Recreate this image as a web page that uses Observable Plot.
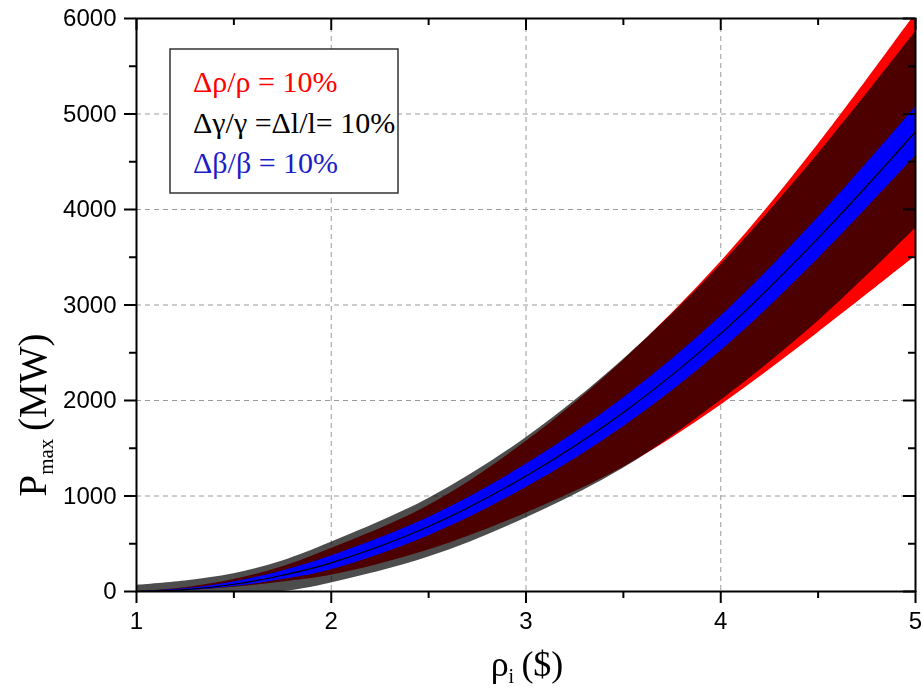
<!DOCTYPE html>
<html>
<head>
<meta charset="utf-8">
<script src="https://cdn.jsdelivr.net/npm/d3@7"></script>
<script src="https://cdn.jsdelivr.net/npm/@observablehq/plot@0.6"></script>
<style>
  html, body { margin: 0; padding: 0; background: #fff; }
  #chart { position: relative; width: 923px; height: 693px; }
</style>
</head>
<body>
<div id="chart"></div>
<script>
// ---- data ----
const xs     = [1, 1.25, 1.5, 1.75, 2, 2.5, 3, 3.5, 4, 4.5, 5];
const center = [0, 19, 76, 170, 300, 680, 1210, 1875, 2700, 3700, 4815];
const blueLo = [0, 9, 52, 125, 228, 585, 1088, 1725, 2518, 3485, 4560];
const blueHi = [0, 29, 100, 215, 372, 775, 1332, 2025, 2882, 3915, 5070];
const grayLo = [0, 0, 0, 0, 90, 360, 770, 1290, 2000, 2830, 3800];
const grayHi = [65, 110, 185, 320, 515, 975, 1610, 2430, 3420, 4580, 5860];
const redLo  = [0, 10, 45, 100, 170, 435, 820, 1300, 1950, 2710, 3510];
const redHi  = [0, 40, 125, 260, 450, 900, 1570, 2420, 3450, 4680, 6050];

const xTicks = [1, 2, 3, 4, 5];
const xMinor = [1.5, 2.5, 3.5, 4.5];
const yTicks = [0, 1000, 2000, 3000, 4000, 5000, 6000];
const yMinor = [500, 1500, 2500, 3500, 4500, 5500];
const xGrid  = [2, 3, 4];
const yGrid  = [1000, 2000, 3000, 4000, 5000];

const legendLines = [
  {text: "\u0394\u03c1/\u03c1 = 10%", color: "#ff0000"},
  {text: "\u0394\u03b3/\u03b3 =\u0394l/l= 10%", color: "#000000"},
  {text: "\u0394\u03b2/\u03b2 = 10%", color: "#1c1cc8"}
];

const rows = xs.map((x, i) => ({
  x, center: center[i],
  blueLo: blueLo[i], blueHi: blueHi[i],
  grayLo: grayLo[i], grayHi: grayHi[i],
  redLo: redLo[i], redHi: redHi[i]
}));

const sans = "'Liberation Sans', Arial, sans-serif";
const serif = "'Liberation Serif', 'Times New Roman', serif";
const tickStyle = {stroke: "black", strokeWidth: 2};
const crv = "catmull-rom";

const plot = Plot.plot({
  width: 923,
  height: 693,
  marginLeft: 136,
  marginRight: 8,
  marginTop: 18,
  marginBottom: 102,
  style: {fontFamily: sans, background: "white", overflow: "visible"},
  x: {domain: [1, 5], axis: null},
  y: {domain: [0, 6000], axis: null},
  marks: [
    Plot.ruleX(xGrid, {x: d => d, stroke: "#9a9a9a", strokeWidth: 1, strokeDasharray: "5,4"}),
    Plot.ruleY(yGrid, {y: d => d, stroke: "#9a9a9a", strokeWidth: 1, strokeDasharray: "5,4"}),
    Plot.areaY(rows, {x: "x", y1: "redLo", y2: "redHi", fill: "#ff0000", curve: crv, clip: true}),
    Plot.areaY(rows, {x: "x", y1: "grayLo", y2: "grayHi", fill: "#4d4d4d", curve: crv, clip: true, mixBlendMode: "multiply"}),
    Plot.areaY(rows, {x: "x", y1: "blueLo", y2: "blueHi", fill: "#0000ff", curve: crv, clip: true}),
    Plot.line(rows, {x: "x", y: "center", stroke: "black", strokeWidth: 1.2, curve: crv, clip: true}),
    Plot.frame({stroke: "black", strokeWidth: 2}),
    // bottom ticks (outward)
    Plot.ruleX(xTicks, {x: d => d, y1: () => 0, y2: () => 0, insetBottom: -12, ...tickStyle}),
    Plot.ruleX(xMinor, {x: d => d, y1: () => 0, y2: () => 0, insetBottom: -7, ...tickStyle}),
    // top ticks (inward)
    Plot.ruleX(xTicks, {x: d => d, y1: () => 6000, y2: () => 6000, insetBottom: -12, ...tickStyle}),
    Plot.ruleX(xMinor, {x: d => d, y1: () => 6000, y2: () => 6000, insetBottom: -7, ...tickStyle}),
    // left ticks (outward)
    Plot.ruleY(yTicks, {y: d => d, x1: () => 1, x2: () => 1, insetLeft: -12, ...tickStyle}),
    Plot.ruleY(yMinor, {y: d => d, x1: () => 1, x2: () => 1, insetLeft: -7, ...tickStyle}),
    // right ticks (inward)
    Plot.ruleY(yTicks, {y: d => d, x1: () => 5, x2: () => 5, insetLeft: -12, ...tickStyle}),
    Plot.ruleY(yMinor, {y: d => d, x1: () => 5, x2: () => 5, insetLeft: -7, ...tickStyle}),
    // tick labels
    Plot.text(xTicks, {x: d => d, y: () => 0, text: d => String(d), dy: 30, lineAnchor: "middle", fontSize: 24, fill: "black"}),
    Plot.text(yTicks, {x: () => 1, y: d => d, text: d => String(d), dx: -20, textAnchor: "end", lineAnchor: "middle", fontSize: 24, fill: "black"})
  ]
});

document.getElementById("chart").appendChild(plot);

const svg = d3.select(plot);
// ensure multiply blending on the gray band
svg.selectAll('g[aria-label="area"]').filter((d, i) => i === 1).style("mix-blend-mode", "multiply");

// axis titles
const yt = svg.append("text")
  .attr("transform", "translate(46,415) rotate(-90)")
  .attr("text-anchor", "middle")
  .style("font-family", serif)
  .style("font-size", "39px")
  .attr("fill", "black");
yt.append("tspan").text("P");
yt.append("tspan").attr("dy", 7).style("font-size", "21px").text("max");
yt.append("tspan").attr("dy", -7).text("\u2009(MW)");

const xt = svg.append("text")
  .attr("transform", "translate(527,676)")
  .attr("text-anchor", "middle")
  .style("font-family", serif)
  .style("font-size", "36px")
  .attr("fill", "black");
xt.append("tspan").text("\u03c1");
xt.append("tspan").attr("dy", 7).style("font-size", "20px").text("i");
xt.append("tspan").attr("dy", -7).text("\u2009($)");

// legend
const lg = svg.append("g");
lg.append("rect")
  .attr("x", 170).attr("y", 49).attr("width", 228).attr("height", 144)
  .attr("fill", "white").attr("stroke", "#333").attr("stroke-width", 1.5);
lg.selectAll("text.leg").data(legendLines).join("text")
  .attr("class", "leg")
  .attr("x", 193)
  .attr("y", (d, i) => 92 + i * 40.5)
  .attr("text-anchor", "start")
  .style("font-family", serif)
  .style("font-size", "30px")
  .attr("fill", d => d.color)
  .text(d => d.text);
</script>
</body>
</html>
